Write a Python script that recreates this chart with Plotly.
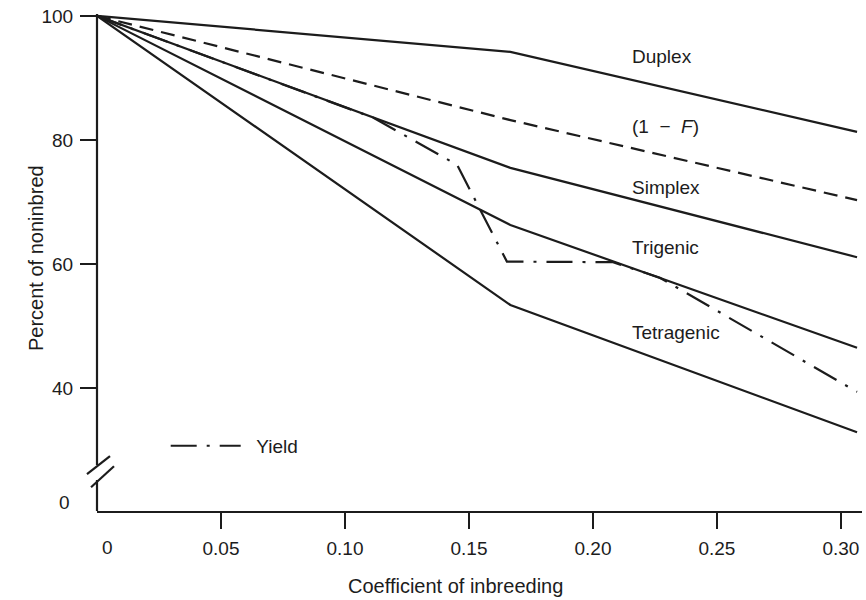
import plotly.graph_objects as go

# ---- data ----
F_pts = [0, 0.1667, 0.3065]
duplex = [100, 94.2, 81.3]
one_minus_f = [100, 83.2, 70.3]
simplex = [100, 75.5, 61.1]
trigenic = [100, 66.3, 46.5]
tetragenic = [100, 53.4, 32.9]

yield_F = [0, 0.1113, 0.1452, 0.1653, 0.2081, 0.227, 0.3065]
yield_v = [100, 83.6, 76.0, 60.4, 60.3, 57.8, 39.4]

x_ticks = [0.05, 0.10, 0.15, 0.20, 0.25, 0.30]
x_ticktext = ["0.05", "0.10", "0.15", "0.20", "0.25", "0.30"]
y_ticks = [40, 60, 80, 100]
y_ticktext = ["40", "60", "80", "100"]

labels = ["Duplex", "(1 &nbsp;− &nbsp;<i>F</i>)", "Simplex", "Trigenic", "Tetragenic"]
label_y = [93.4, 82.1, 72.3, 62.7, 48.9]
label_x = 0.2149

INK = "#1c1c1c"
FONT = "Liberation Sans, Arial, Helvetica, sans-serif"

fig = go.Figure()
solid = dict(color=INK, width=2.2)
for name, vals in [("Duplex", duplex), ("Simplex", simplex),
                   ("Trigenic", trigenic), ("Tetragenic", tetragenic)]:
    fig.add_trace(go.Scatter(x=F_pts, y=vals, mode="lines", name=name,
                             line=solid, showlegend=False))
fig.add_trace(go.Scatter(x=F_pts, y=one_minus_f, mode="lines", name="1 - F",
                         line=dict(color=INK, width=2.2, dash="14px,8px"),
                         showlegend=False))
fig.add_trace(go.Scatter(x=yield_F, y=yield_v, mode="lines", name="&nbsp;&nbsp;Yield",
                         line=dict(color=INK, width=2.2, dash="26px,10px,3px,10px"),
                         showlegend=True))

annotations = []
for t, yv in zip(labels, label_y):
    annotations.append(dict(x=label_x, y=yv, xref="x", yref="y", text=t,
                            showarrow=False, xanchor="left", yanchor="middle",
                            font=dict(size=19, color=INK, family=FONT)))
# zero labels at the broken axes
annotations.append(dict(x=0, y=0, xref="x", yref="paper", text="0", showarrow=False,
                        xanchor="center", yanchor="middle", xshift=10, yshift=-36,
                        font=dict(size=19, color=INK, family=FONT)))
annotations.append(dict(x=0, y=21.6, xref="paper", yref="y", text="0", showarrow=False,
                        xanchor="right", yanchor="middle", xshift=-25,
                        font=dict(size=19, color=INK, family=FONT)))
# axis titles
annotations.append(dict(x=-0.0797, y=0.509, xref="paper", yref="paper",
                        text="Percent of noninbred", textangle=-90, showarrow=False,
                        xanchor="center", yanchor="middle",
                        font=dict(size=20, color=INK, family=FONT)))
annotations.append(dict(x=0.468, y=-0.151, xref="paper", yref="paper",
                        text="Coefficient of inbreeding", showarrow=False,
                        xanchor="center", yanchor="middle",
                        font=dict(size=20, color=INK, family=FONT)))

axline = dict(color=INK, width=2.2)
shapes = [
    # broken y axis
    dict(type="line", xref="paper", yref="y", x0=0, x1=0, y0=100.3, y1=27.6, line=axline),
    dict(type="line", xref="paper", yref="y", x0=0, x1=0, y0=25.2, y1=20.2, line=axline),
    dict(type="line", xref="paper", yref="y", x0=-0.0131, y0=26.13, x1=0.017, y1=29.03, line=axline),
    dict(type="line", xref="paper", yref="y", x0=-0.0078, y0=24.03, x1=0.0222, y1=27.42, line=axline),
]

fig.update_layout(
    width=866, height=600,
    margin=dict(l=97, r=4, t=14, b=89, autoexpand=False),
    paper_bgcolor="white", plot_bgcolor="white",
    font=dict(family=FONT, size=19, color=INK),
    annotations=annotations, shapes=shapes,
    legend=dict(x=0.0898, y=0.131, xanchor="left", yanchor="middle",
                bgcolor="rgba(0,0,0,0)", itemwidth=70,
                font=dict(size=19, color=INK, family=FONT)),
    xaxis=dict(range=[0, 0.3085], showgrid=False, zeroline=False, automargin=False,
               showline=True, linecolor=INK, linewidth=2.2,
               tickmode="array", tickvals=x_ticks, ticktext=x_ticktext,
               ticks="outside", ticklen=16, tickwidth=2, tickcolor=INK,
               ticklabelstandoff=3, ticklabeloverflow="allow",
               tickfont=dict(size=19, color=INK, family=FONT)),
    yaxis=dict(range=[20.2, 100.3], showgrid=False, zeroline=False, automargin=False,
               showline=False,
               tickmode="array", tickvals=y_ticks, ticktext=y_ticktext,
               ticks="outside", ticklen=16, tickwidth=2, tickcolor=INK,
               ticklabelstandoff=3, ticklabeloverflow="allow",
               tickfont=dict(size=19, color=INK, family=FONT)),
)

# remove the browser's default 8px body margin so the figure sits at the page origin
fig.write_html("out.html", config={"displayModeBar": False},
               post_script="document.body.style.margin='0';")
